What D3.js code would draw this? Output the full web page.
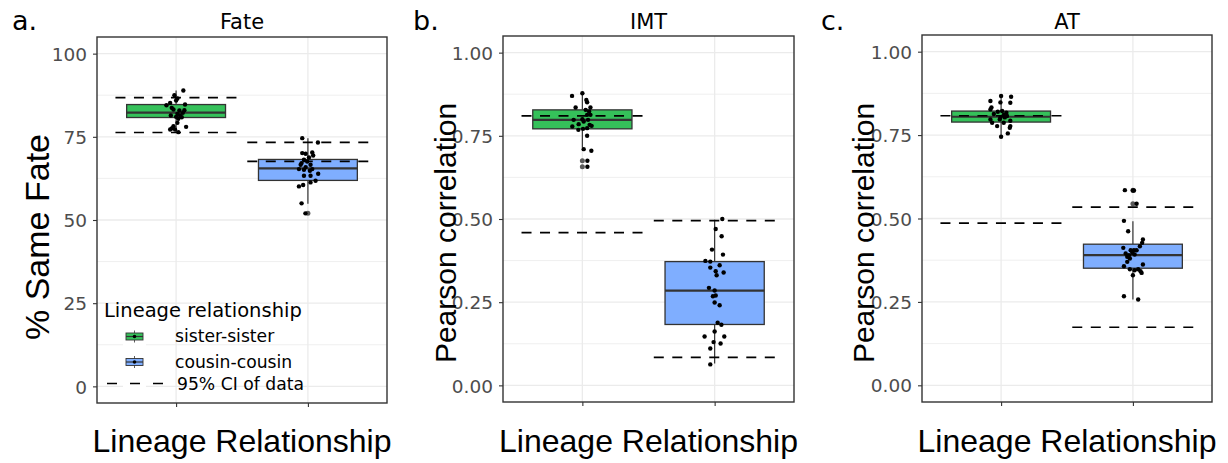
<!DOCTYPE html>
<html><head><meta charset="utf-8">
<script src="https://cdn.jsdelivr.net/npm/d3@7"></script>
<style>body{margin:0;background:#fff} svg{display:block}</style>
</head><body><svg id="chart" width="1228" height="463"></svg>
<script>
// ---------------- data ----------------
const categories = ["sister-sister", "cousin-cousin"];
const panelTitles = ["Fate", "IMT", "AT"];
const panelLetters = ["a.", "b.", "c."];
const yTitles = ["% Same Fate", "Pearson correlation", "Pearson correlation"];
const xTitle = "Lineage Relationship";
const legendTitle = "Lineage relationship";
const ciLabel = "95% CI of data";
const fateTicks = [0, 25, 50, 75, 100];
const corTicks = [0, 0.25, 0.5, 0.75, 1];

// box stats: [q1, median, q3, lower whisker, upper whisker]
const fateBoxSister = [80.8, 82.3, 84.7, 76.4, 88.9];
const fateBoxCousin = [61.9, 65.5, 68.2, 54.9, 74.6];
const imtBoxSister  = [0.771, 0.798, 0.828, 0.714, 0.878];
const imtBoxCousin  = [0.183, 0.285, 0.372, 0.066, 0.498];
const atBoxSister   = [0.789, 0.805, 0.822, 0.745, 0.867];
const atBoxCousin   = [0.351, 0.390, 0.423, 0.257, 0.492];

// 95% CI of data: [lower, upper]
const fateCiSister = [76.3, 86.8];
const fateCiCousin = [67.6, 73.3];
const imtCiSister  = [0.459, 0.810];
const imtCiCousin  = [0.084, 0.495];
const atCiSister   = [0.486, 0.808];
const atCiCousin   = [0.174, 0.534];

// outliers
const fateOutSister = [];
const fateOutCousin = [52.0];
const imtOutSister  = [0.675, 0.657];
const imtOutCousin  = [];
const atOutSister   = [];
const atOutCousin   = [0.585, 0.544];

// jittered observations (value) and their horizontal jitter (category units)
const fatePtsSister = [88.9,87.5,86.5,85.9,85.2,84.5,84.7,83.7,83.2,82.9,83.0,82.2,81.9,81.4,81.4,80.9,81.0,80.4,79.2,78.2,77.5,78.0,77.2,76.4,77.2];
const fateJitSister = [0.055,-0.013,0.01,0,-0.045,-0.073,0.068,-0.033,-0.02,0.025,0.063,0.051,0.01,-0.04,0.03,0.043,0,0.017,0.01,-0.02,-0.033,0.076,-0.008,0.017,-0.045];
const fatePtsCousin = [74.6,73.3,70.1,69.9,70.3,69.4,68.8,68.1,67.6,67.1,66.6,66.6,65.9,65.3,65.3,65.1,64.8,63.9,63.3,63.3,61.8,61.3,60.5,60.1,55.0,52.0];
const fateJitCousin = [-0.043,0.076,-0.043,-0.017,0.033,0.04,0.008,-0.03,-0.005,-0.048,-0.055,0.02,-0.017,0.033,-0.068,-0.03,0.015,0.078,-0.03,0.02,0.058,0.02,-0.036,-0.068,-0.048,-0.019];
const imtPtsSister = [0.870,0.878,0.858,0.851,0.835,0.835,0.828,0.823,0.813,0.813,0.800,0.798,0.798,0.793,0.785,0.783,0.780,0.778,0.773,0.771,0.768,0.750,0.710,0.705,0.675,0.657];
const imtJitSister = [-0.078,0,0.03,0.036,-0.051,0.061,0.025,0.051,0.036,0.061,0,-0.066,0.043,0.01,-0.028,0.055,0.07,-0.076,0.036,0.005,-0.03,0.036,0.01,0.068,0.038,0.038];
const imtPtsCousin = [0.500,0.470,0.448,0.408,0.393,0.374,0.372,0.361,0.354,0.343,0.339,0.331,0.293,0.285,0.268,0.270,0.249,0.241,0.188,0.182,0.162,0.147,0.147,0.130,0.126,0.111,0.063];
const imtJitCousin = [0.058,0.008,0.053,-0.02,0.063,-0.07,-0.033,0.038,-0.033,0.008,0.068,0.015,-0.043,0,-0.013,0.008,0,0.038,0.023,0.051,0,-0.076,0.073,-0.008,0.045,-0.033,-0.033];
const atPtsSister = [0.867,0.865,0.852,0.848,0.847,0.833,0.827,0.820,0.822,0.817,0.813,0.810,0.803,0.807,0.797,0.803,0.797,0.793,0.787,0.787,0.777,0.777,0.772,0.755,0.745];
const atJitSister = [0,0.076,-0.081,-0.005,0.07,-0.073,-0.081,-0.025,0.008,0.04,-0.055,0.02,-0.005,0.045,-0.081,0.028,-0.01,0.07,-0.068,0.02,-0.03,0.07,0.066,0.051,0];
const atPtsCousin = [0.585,0.584,0.584,0.544,0.493,0.462,0.437,0.427,0.417,0.412,0.405,0.405,0.405,0.397,0.395,0.390,0.392,0.385,0.380,0.370,0.362,0.357,0.348,0.345,0.348,0.342,0.337,0.330,0.267,0.257];
const atJitCousin = [-0.061,0,0.008,0.028,-0.068,-0.036,0.076,0.07,0.053,-0.073,-0.017,0.008,0.028,-0.005,-0.055,-0.03,0.013,-0.043,-0.023,-0.043,0.076,-0.068,-0.023,0.013,0.04,0.058,0.066,0,-0.068,0.04];

// ---------------- styling / layout ----------------
const fillColors = ["#35C15A", "#7FAEFF"];
const gridColor = "#EBEBEB";
const darkLine = "#333333";
const tickText = "#4D4D4D";
const sans = "'DejaVu Sans', sans-serif";
const titleFont = "'Liberation Sans', Arial, sans-serif";

const panels = [
  { title: panelTitles[0], letter: panelLetters[0], yTitle: yTitles[0], yTitleSize: 34,
    box: { left: 97, right: 387, top: 37, bottom: 403 }, letterX: 12, yTitleX: 49, yTitleY: 237,
    domain: [-5, 105], ticks: fateTicks, fmt: d3.format("d"),
    boxes: [fateBoxSister, fateBoxCousin], cis: [fateCiSister, fateCiCousin],
    outs: [fateOutSister, fateOutCousin],
    pts: [fatePtsSister, fatePtsCousin], jit: [fateJitSister, fateJitCousin] },
  { title: panelTitles[1], letter: panelLetters[1], yTitle: yTitles[1], yTitleSize: 30,
    box: { left: 503, right: 794, top: 36, bottom: 402 }, letterX: 413, yTitleX: 456, yTitleY: 233,
    domain: [-0.05, 1.05], ticks: corTicks, fmt: d3.format(".2f"),
    boxes: [imtBoxSister, imtBoxCousin], cis: [imtCiSister, imtCiCousin],
    outs: [imtOutSister, imtOutCousin],
    pts: [imtPtsSister, imtPtsCousin], jit: [imtJitSister, imtJitCousin] },
  { title: panelTitles[2], letter: panelLetters[2], yTitle: yTitles[2], yTitleSize: 30,
    box: { left: 922, right: 1212, top: 35, bottom: 402 }, letterX: 821, yTitleX: 874, yTitleY: 233,
    domain: [-0.05, 1.05], ticks: corTicks, fmt: d3.format(".2f"),
    boxes: [atBoxSister, atBoxCousin], cis: [atCiSister, atCiCousin],
    outs: [atOutSister, atOutCousin],
    pts: [atPtsSister, atPtsCousin], jit: [atJitSister, atJitCousin] }
];

const svg = d3.select("#chart");
svg.append("rect").attr("width", 1228).attr("height", 463).attr("fill", "#fff");

function addText(g, x, y, txt, opts) {
  return g.append("text")
    .attr("transform", `translate(${x},${y})` + (opts.rotate ? " rotate(-90)" : ""))
    .attr("text-anchor", opts.anchor || "start")
    .attr("font-family", opts.family || sans)
    .attr("font-size", opts.size)
    .attr("fill", opts.fill || "#000")
    .text(txt);
}

panels.forEach(p => {
  const L = p.box;
  const g = svg.append("g");
  const x = d3.scalePoint().domain(categories).range([L.left, L.right]).padding(0.6);
  const y = d3.scaleLinear().domain(p.domain).range([L.bottom, L.top]);
  const step = x.step();
  const minor = p.ticks.slice(0, -1).map((t, i) => (t + p.ticks[i + 1]) / 2);

  // grid
  g.selectAll(".minor").data(minor).join("line")
    .attr("x1", L.left).attr("x2", L.right)
    .attr("y1", d => y(d)).attr("y2", d => y(d))
    .attr("stroke", gridColor).attr("stroke-width", 0.8);
  g.selectAll(".major").data(p.ticks).join("line")
    .attr("x1", L.left).attr("x2", L.right)
    .attr("y1", d => y(d)).attr("y2", d => y(d))
    .attr("stroke", gridColor).attr("stroke-width", 1.3);
  g.selectAll(".vmajor").data(categories).join("line")
    .attr("x1", d => x(d)).attr("x2", d => x(d))
    .attr("y1", L.top).attr("y2", L.bottom)
    .attr("stroke", gridColor).attr("stroke-width", 1.3);

  // boxes
  categories.forEach((c, i) => {
    const b = p.boxes[i];
    const cx = x(c), w = 0.75 * step;
    g.append("line").attr("x1", cx).attr("x2", cx).attr("y1", y(b[3])).attr("y2", y(b[0]))
      .attr("stroke", darkLine).attr("stroke-width", 1.2);
    g.append("line").attr("x1", cx).attr("x2", cx).attr("y1", y(b[2])).attr("y2", y(b[4]))
      .attr("stroke", darkLine).attr("stroke-width", 1.2);
    g.append("rect").attr("x", cx - w / 2).attr("width", w)
      .attr("y", y(b[2])).attr("height", y(b[0]) - y(b[2]))
      .attr("fill", fillColors[i]).attr("stroke", darkLine).attr("stroke-width", 1.3);
    g.append("line").attr("x1", cx - w / 2).attr("x2", cx + w / 2)
      .attr("y1", y(b[1])).attr("y2", y(b[1]))
      .attr("stroke", darkLine).attr("stroke-width", 2.2);
    g.selectAll(null).data(p.outs[i]).join("circle")
      .attr("cx", cx).attr("cy", d => y(d)).attr("r", 2.5).attr("fill", "#5a5a5a");
  });

  // CI lines
  categories.forEach((c, i) => {
    const cx = x(c), w = 0.92 * step;
    g.selectAll(null).data(p.cis[i]).join("line")
      .attr("x1", cx - w / 2).attr("x2", cx + w / 2)
      .attr("y1", d => y(d)).attr("y2", d => y(d))
      .attr("stroke", "#000").attr("stroke-width", 1.7)
      .attr("stroke-dasharray", "10,8.5");
  });

  // jittered points
  categories.forEach((c, i) => {
    const jit = p.jit[i];
    g.selectAll(null).data(p.pts[i]).join("circle")
      .attr("cx", (d, k) => x(c) + jit[k] * step)
      .attr("cy", d => y(d)).attr("r", 2.2).attr("fill", "#000");
  });

  // border
  g.append("rect").attr("x", L.left).attr("y", L.top)
    .attr("width", L.right - L.left).attr("height", L.bottom - L.top)
    .attr("fill", "none").attr("stroke", darkLine).attr("stroke-width", 1.4);

  // y axis
  const ya = g.append("g").attr("transform", `translate(${L.left},0)`)
    .call(d3.axisLeft(y).tickValues(p.ticks).tickSize(4).tickPadding(6).tickFormat(p.fmt));
  ya.select(".domain").remove();
  ya.selectAll(".tick line").attr("stroke", darkLine).attr("stroke-width", 1.1);
  ya.selectAll(".tick text")
    .attr("dy", "0.36em")
    .attr("font-family", sans).attr("font-size", 18.5).attr("fill", tickText);

  // x axis (ticks only)
  const xa = g.append("g").attr("transform", `translate(0,${L.bottom})`)
    .call(d3.axisBottom(x).tickSize(4).tickFormat(""));
  xa.select(".domain").remove();
  xa.selectAll(".tick line").attr("stroke", darkLine).attr("stroke-width", 1.1);

  // titles
  const cxPanel = (L.left + L.right) / 2;
  addText(g, cxPanel, 29, p.title, { anchor: "middle", size: 21 });
  addText(g, p.letterX, 30, p.letter, { size: 27 });
  addText(g, p.yTitleX, p.yTitleY, p.yTitle,
    { anchor: "middle", size: p.yTitleSize, rotate: true, family: titleFont });
  addText(g, cxPanel, 452, xTitle, { anchor: "middle", size: 32, family: titleFont });
});

// ---------------- legend (panel a) ----------------
const lg = svg.append("g");
lg.append("rect").attr("x", 123).attr("y", 324).attr("width", 23).attr("height", 68).attr("fill", "#fff");
addText(lg, 104, 317, legendTitle, { size: 19.5 });
const keyY = [336.5, 362];
categories.forEach((c, i) => {
  const ky = keyY[i];
  lg.append("line").attr("x1", 134.5).attr("x2", 134.5).attr("y1", ky - 6).attr("y2", ky + 6)
    .attr("stroke", darkLine).attr("stroke-width", 0.8);
  lg.append("rect").attr("x", 126).attr("y", ky - 3.5).attr("width", 17).attr("height", 7)
    .attr("fill", fillColors[i]).attr("stroke", darkLine).attr("stroke-width", 0.9);
  lg.append("line").attr("x1", 126).attr("x2", 143).attr("y1", ky).attr("y2", ky)
    .attr("stroke", darkLine).attr("stroke-width", 1.2);
  lg.append("circle").attr("cx", 134.5).attr("cy", ky).attr("r", 1.8).attr("fill", "#000");
  addText(lg, 175, ky + 5.5, c, { size: 17.2 });
});
lg.append("line").attr("x1", 107).attr("x2", 165).attr("y1", 383.5).attr("y2", 383.5)
  .attr("stroke", "#000").attr("stroke-width", 1.6).attr("stroke-dasharray", "10,13");
addText(lg, 177, 390, ciLabel, { size: 17.2 });
</script></body></html>
